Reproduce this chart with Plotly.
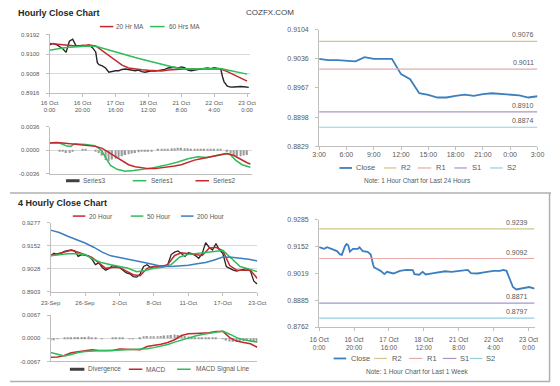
import plotly.graph_objects as go

FONT = "Liberation Sans, Arial, sans-serif"
TXT = "#595959"
AXC = "#bfbfbf"
GRID = "#d9d9d9"
RED = "#c3282d"
GREEN = "#2ebd59"
BLUE = "#3b7fc0"
BLACK = "#262626"
BARC = "#9a9a9a"
R2C, R1C, S1C, S2C = "#cfc68a", "#e8aaa9", "#a795c9", "#92cfe0"

# ---------------- Hourly close chart (panel 1) ----------------
h_labels = ["16 Oct<br>0:00", "16 Oct<br>20:00", "17 Oct<br>16:00", "18 Oct<br>12:00",
            "21 Oct<br>8:00", "22 Oct<br>4:00", "23 Oct<br>0:00"]
h_ticks = [0, 20, 40, 60, 80, 100, 120]
price_h = [0, 2, 4, 6, 8, 10, 12, 14, 16, 18, 20, 22, 24, 26, 28, 29,
           30, 32, 34, 36, 38, 40, 42, 44, 46, 48, 50, 52, 54, 56, 58, 60, 62, 64, 66, 68,
           70, 72, 74, 76, 78, 80, 82, 84, 86, 88, 90, 92, 94, 96, 98, 100, 102, 104, 105,
           106, 108, 110, 112, 114, 116, 118, 120, 121]
price_v = [0.9143, 0.9150, 0.9145, 0.9135, 0.9125, 0.9108, 0.9160, 0.9170, 0.9140, 0.9138,
           0.9140, 0.9138, 0.9142, 0.9130, 0.9110, 0.9060,
           0.9050, 0.9045, 0.9035, 0.9015, 0.9020, 0.9022, 0.9022, 0.9028, 0.9030, 0.9028,
           0.9026, 0.9022, 0.9025, 0.9018, 0.9015, 0.9020, 0.9022, 0.9020, 0.9022, 0.9025,
           0.9028, 0.9035, 0.9036, 0.9038, 0.9035, 0.9040, 0.9036, 0.9025, 0.9022, 0.9025,
           0.9030, 0.9032, 0.9033, 0.9035, 0.9032, 0.9036, 0.9034, 0.9030, 0.8995,
           0.8970, 0.8950, 0.8945, 0.8946, 0.8948, 0.8948, 0.8947, 0.8945, 0.8944]
ma_h = list(range(0, 121, 4))
ma20 = [0.9150, 0.9147, 0.9143, 0.9140, 0.9138, 0.9140, 0.9142, 0.9138, 0.9115, 0.9092,
        0.9068, 0.9048, 0.9035, 0.9030, 0.9027, 0.9024, 0.9022, 0.9021, 0.9025, 0.9028,
        0.9030, 0.9031, 0.9030, 0.9030, 0.9030, 0.9031, 0.9030, 0.9018, 0.9002, 0.8988, 0.8973]
ma60 = [0.9118, 0.9124, 0.9128, 0.9132, 0.9135, 0.9137, 0.9138, 0.9137, 0.9128, 0.9118,
        0.9108, 0.9100, 0.9092, 0.9084, 0.9076, 0.9068, 0.9060, 0.9052, 0.9044, 0.9037,
        0.9033, 0.9031, 0.9030, 0.9031, 0.9032, 0.9034, 0.9032, 0.9025, 0.9018, 0.9012, 0.9006]
p1_ticks = [0.8916, 0.9008, 0.9100, 0.9192]

# ---------------- Hourly MACD (panel 2) ----------------
s1_h = [0, 6, 10, 13, 15, 22, 27.5, 31.5, 34.5, 37, 41, 46, 51, 57, 62.5, 70, 78, 84, 90,
        95.5, 101.5, 107, 110, 113, 117, 122]
s1_v = [0.0011, 0.0011, 0.0007, 0.0006, 0.0010, 0.0009, 0.0007, 0.0000, -0.0013, -0.0023,
        -0.0029, -0.0032, -0.0031, -0.0029, -0.0027, -0.0023, -0.0018, -0.0013, -0.0010,
        -0.0011, -0.0008, -0.0005, -0.0007, -0.0015, -0.0022, -0.0026]
s2_h = list(range(0, 121, 4)) + [122]
s2_v = [0.0011, 0.0012, 0.0011, 0.0010, 0.0009, 0.0008, 0.0007, 0.0006, 0.0003, -0.0003,
        -0.0010, -0.0016, -0.0022, -0.0025, -0.0027, -0.0028, -0.0028, -0.0027, -0.0026,
        -0.0024, -0.0022, -0.0018, -0.0015, -0.0013, -0.0011, -0.0009, -0.0007, -0.0005,
        -0.0008, -0.0014, -0.0019, -0.0021]
s3_h = list(range(0, 121, 2))
s3_v = [0.0000, 0.0000, 0.0000, -0.0001, -0.0002, -0.0004, -0.0004, -0.0002, 0.0000, 0.0000,
        0.0001, 0.0001, 0.0000, 0.0000, -0.0001, -0.0004, -0.0008, -0.0015, -0.0016, -0.0014,
        -0.0013, -0.0011, -0.0009, -0.0007, -0.0006, -0.0005, -0.0004, -0.0003, -0.0002, -0.0002,
        -0.0001, -0.0001, 0.0000, 0.0001, 0.0001, 0.0002, 0.0002, 0.0003, 0.0003, 0.0004,
        0.0004, 0.0003, 0.0003, 0.0002, 0.0002, 0.0001, 0.0001, 0.0001, 0.0001, 0.0001,
        0.0001, 0.0001, 0.0001, 0.0000, -0.0002, -0.0005, -0.0008, -0.0009, -0.0009, -0.0008,
        -0.0007]
p2_ticks = [-0.0036, 0.0, 0.0036]

# ---------------- 24h close with pivots (panel 3) ----------------
d_labels = ["3:00", "6:00", "9:00", "12:00", "15:00", "18:00", "21:00", "0:00", "3:00"]
d_ticks = [0, 3, 6, 9, 12, 15, 18, 21, 24]
d_hours = list(range(25))
close24 = [0.9035, 0.9032, 0.9032, 0.9031, 0.9029, 0.9039, 0.9035, 0.9035, 0.9035, 0.8999,
           0.8987, 0.8954, 0.8950, 0.8944, 0.8944, 0.8948, 0.8951, 0.8948, 0.8952, 0.8954,
           0.8952, 0.8950, 0.8949, 0.8944, 0.8947]
lv_names = ["R2", "R1", "S1", "S2"]
lv24 = [0.9076, 0.9011, 0.8910, 0.8874]
p3_labels = ["0.8829", "0.8898", "0.8967", "0.9036", "0.9104"]

# ---------------- 4 hourly close chart (panel 4) ----------------
w_labels = ["23-Sep", "26-Sep", "2-Oct", "8-Oct", "11-Oct", "17-Oct", "23-Oct"]
w_ticks = [0, 1, 2, 3, 4, 5, 6]
price4 = [0.9098, 0.9112, 0.9105, 0.9110, 0.9122, 0.9128, 0.9130, 0.9125, 0.9095, 0.9105,
          0.9100, 0.9098, 0.9080, 0.9050, 0.9060, 0.9035, 0.9020, 0.9030, 0.9045, 0.9040,
          0.9035, 0.9020, 0.9005, 0.9000, 0.8985, 0.8982, 0.9000, 0.9040, 0.9050, 0.9035,
          0.9040, 0.9035, 0.9045, 0.9040, 0.9050, 0.9105, 0.9118, 0.9125, 0.9110, 0.9095,
          0.9115, 0.9110, 0.9100, 0.9085, 0.9110, 0.9170, 0.9145, 0.9130, 0.9165, 0.9130,
          0.9110, 0.9040, 0.9030, 0.9020, 0.9015, 0.9022, 0.9025, 0.9028, 0.9015, 0.8960,
          0.8945]
ma4_20 = [0.9100, 0.9108, 0.9118, 0.9128, 0.9118, 0.9105, 0.9090, 0.9060, 0.9030, 0.9035,
          0.9035, 0.9015, 0.8995, 0.8990, 0.9030, 0.9040, 0.9040, 0.9050, 0.9100, 0.9115,
          0.9110, 0.9105, 0.9100, 0.9140, 0.9145, 0.9125, 0.9045, 0.9020, 0.9022, 0.9020,
          0.8975]
ma4_50 = [0.9098, 0.9106, 0.9110, 0.9110, 0.9105, 0.9078, 0.9060, 0.9050, 0.9040, 0.9030,
          0.9012, 0.9018, 0.9030, 0.9036, 0.9050, 0.9092, 0.9106, 0.9110, 0.9114, 0.9122,
          0.9128, 0.9082, 0.9040, 0.9027, 0.9012]
ma4_200 = [0.9238, 0.9225, 0.9205, 0.9188, 0.9168, 0.9145, 0.9118, 0.9098, 0.9090, 0.9080,
           0.9070, 0.9060, 0.9050, 0.9040, 0.9040, 0.9043, 0.9047, 0.9055, 0.9062, 0.9075,
           0.9092, 0.9090, 0.9086, 0.9080, 0.9070]
p4_labels = ["0.8903", "0.9028", "0.9152", "0.9277"]

# ---------------- 4 hourly MACD (panel 5) ----------------
macd4 = [-0.0055, -0.0054, -0.0050, -0.0042, -0.0039, -0.0036, -0.0033, -0.0035, -0.0036,
         -0.0035, -0.0031, -0.0032, -0.0034, -0.0033, -0.0024, -0.0021, -0.0017, -0.0012,
         -0.0004, 0.0008, 0.0013, 0.0014, 0.0014, 0.0016, 0.0020, 0.0020, 0.0002, -0.0008,
         -0.0012, -0.0016, -0.0026]
signal4 = [-0.0041, -0.0047, -0.0051, -0.0047, -0.0041, -0.0038, -0.0036, -0.0036, -0.0036,
           -0.0035, -0.0034, -0.0033, -0.0033, -0.0033, -0.0030, -0.0027, -0.0023, -0.0018,
           -0.0011, -0.0005, 0.0002, 0.0007, 0.0011, 0.0014, 0.0018, 0.0021, 0.0012, 0.0002,
           -0.0004, -0.0008, -0.0011]
diverg4 = [-0.0006, -0.0005, -0.0002, 0.0000, 0.0001, 0.0002, 0.0003, 0.0004, 0.0004, 0.0004,
           0.0004, 0.0005, 0.0003, 0.0001, 0.0000, -0.0001, 0.0000, 0.0000, 0.0001, 0.0002,
           0.0002, 0.0001, 0.0000, -0.0001, -0.0001, 0.0000, 0.0003, 0.0006, 0.0007, 0.0006,
           0.0006, 0.0006, 0.0007, 0.0008, 0.0009, 0.0010, 0.0011, 0.0010, 0.0009, 0.0007,
           0.0005, 0.0004, 0.0003, 0.0002, 0.0002, 0.0002, 0.0002, 0.0001, 0.0001, 0.0000,
           -0.0002, -0.0006, -0.0009, -0.0010, -0.0010, -0.0009, -0.0008, -0.0008, -0.0009,
           -0.0010, -0.0012]
p5_ticks = [-0.0067, 0.0, 0.0067]

# ---------------- 1 week close with pivots (panel 6) ----------------
wk_h = [0, 2.8, 4.6, 7.4, 10.2, 12, 13, 14.8, 15.7, 16.7, 17.6, 19.4, 22.2, 23.1, 25, 27.8,
        29.6, 30.9, 31.5, 33.3, 35.2, 37.4, 38.9, 42.6, 46.3, 50, 53.7, 54.6, 57.4, 59.3,
        61.1, 64.8, 68.5, 72.2, 75.9, 79.6, 85.2, 87, 90.7, 94.4, 100, 103.7, 105.6, 107.4,
        109.3, 111.1, 113, 116.7, 120.4, 123.5]
wk_v = [0.9148, 0.9140, 0.9148, 0.9140, 0.9129, 0.9112, 0.9110, 0.9153, 0.9164, 0.9158,
        0.9126, 0.9140, 0.9140, 0.9148, 0.9129, 0.9125, 0.9112, 0.9064, 0.9048, 0.9040,
        0.9031, 0.9015, 0.9026, 0.9018, 0.9031, 0.9036, 0.9035, 0.9015, 0.9012, 0.9026,
        0.9013, 0.9018, 0.9023, 0.9029, 0.9026, 0.9031, 0.9036, 0.9020, 0.9018, 0.9023,
        0.9031, 0.9031, 0.9036, 0.9031, 0.8991, 0.8951, 0.8939, 0.8944, 0.8951, 0.8943]
lvwk = [0.9239, 0.9092, 0.8871, 0.8797]
p6_labels = ["0.8762", "0.8885", "0.9019", "0.9152", "0.9285"]

W, H = 560, 386
def px(x):
    return x / W
def py(y):
    return 1 - y / H

fig = go.Figure()

def line(x, y, color, xa, ya, width=1.5):
    fig.add_trace(go.Scatter(x=x, y=y, mode="lines", line=dict(color=color, width=width),
                             xaxis=xa, yaxis=ya, showlegend=False, hoverinfo="skip"))

# panel 1
line(price_h, price_v, BLACK, "x", "y", 1.4)
line(ma_h, ma20, RED, "x", "y")
line(ma_h, ma60, GREEN, "x", "y")
# panel 2
fig.add_trace(go.Bar(x=s3_h, y=s3_v, width=0.9, marker=dict(color=BARC, line=dict(width=0)),
                     xaxis="x2", yaxis="y2", showlegend=False, hoverinfo="skip"))
line(s1_h, s1_v, GREEN, "x2", "y2")
line(s2_h, s2_v, RED, "x2", "y2")
# panel 3
line(d_hours, close24, BLUE, "x3", "y3", 1.8)
for v, c in zip(lv24, [R2C, R1C, S1C, S2C]):
    line([d_hours[0], d_hours[-1]], [v, v], c, "x3", "y3", 1.2)
# panel 4
u10 = [i / 10 for i in range(61)]
u5 = [i / 5 for i in range(31)]
u4 = [i / 4 for i in range(25)]
line(u10, price4, BLACK, "x4", "y4", 1.3)
line(u5, ma4_20, RED, "x4", "y4")
line(u4, ma4_50, GREEN, "x4", "y4")
line(u4, ma4_200, BLUE, "x4", "y4")
# panel 5
fig.add_trace(go.Bar(x=u10, y=diverg4, width=0.045, marker=dict(color=BARC, line=dict(width=0)),
                     xaxis="x5", yaxis="y5", showlegend=False, hoverinfo="skip"))
line(u5, macd4, RED, "x5", "y5")
line(u5, signal4, GREEN, "x5", "y5")
# panel 6
line(wk_h, wk_v, BLUE, "x6", "y6", 1.8)
for v, c in zip(lvwk, [R2C, R1C, S1C, S2C]):
    line([wk_h[0], wk_h[-1]], [v, v], c, "x6", "y6", 1.2)

def axis(dom, rng, anchor, size=6, **kw):
    d = dict(domain=dom, range=rng, anchor=anchor, showline=True, linecolor=AXC, linewidth=1,
             ticks="outside", ticklen=3, tickcolor=AXC, showgrid=False, zeroline=False,
             tickfont=dict(size=size, color=TXT, family=FONT), fixedrange=True)
    d.update(kw)
    return d

def even(lo, hi, n):
    return [lo + (hi - lo) * i / (n - 1) for i in range(n)]

p3_rng = [0.8829, 0.9104]
p6_rng = [0.8753, 0.9285]
p4_rng = [0.8903, 0.9277]

fig.update_layout(
    width=W, height=H, margin=dict(l=0, r=0, t=0, b=0),
    paper_bgcolor="white", plot_bgcolor="white", barmode="overlay",
    font=dict(family=FONT, color=TXT),
    xaxis=axis([px(41), px(248)], [0, 121.5], "y", tickvals=h_ticks, ticktext=h_labels),
    yaxis=axis([py(91), py(31)], [0.8916, 0.9192], "x", tickvals=p1_ticks,
               ticktext=["%.4f" % v for v in p1_ticks], showgrid=True, gridcolor=GRID,
               ticklabelstandoff=5),
    xaxis2=axis([px(41), px(250)], [0, 122.7], "y2", showticklabels=False, ticks=""),
    yaxis2=axis([py(173), py(125)], [-0.0036, 0.0036], "x2", tickvals=p2_ticks,
                ticktext=["%.4f" % v for v in p2_ticks], showgrid=True, gridcolor=GRID,
                ticklabelstandoff=5),
    xaxis3=axis([px(320), px(546)], [0, 24], "y3", size=7, tickvals=d_ticks, ticktext=d_labels,
                ticklabelstandoff=-2),
    yaxis3=axis([py(145), py(26)], p3_rng, "x3", size=7, tickvals=even(p3_rng[0], p3_rng[1], 5),
                ticktext=p3_labels, ticklabelstandoff=5),
    xaxis4=axis([px(42), px(256)], [0, 6], "y4", tickvals=w_ticks, ticktext=w_labels,
                ticklabelstandoff=2),
    yaxis4=axis([py(293), py(223)], p4_rng, "x4", tickvals=even(p4_rng[0], p4_rng[1], 4),
                ticktext=p4_labels, showgrid=True, gridcolor=GRID, ticklabelstandoff=5),
    xaxis5=axis([px(42), px(256)], [0, 6], "y5", showticklabels=False, ticks=""),
    yaxis5=axis([py(364), py(317)], [-0.0067, 0.0067], "x5", tickvals=p5_ticks,
                ticktext=["%.4f" % v for v in p5_ticks], showgrid=True, gridcolor=GRID,
                ticklabelstandoff=5),
    xaxis6=axis([px(320), px(543)], [0, 123.5], "y6", size=6.5, tickvals=h_ticks, ticktext=h_labels,
                ticklabelstandoff=3),
    yaxis6=axis([py(329), py(219.5)], p6_rng, "x6", size=7, tickvals=even(p6_rng[0], p6_rng[1], 5),
                ticktext=p6_labels, ticklabelstandoff=5),
)

ann = []
shapes = []

def text(x, y, s, size=6.5, color=TXT, anchor="left", bold=False):
    ann.append(dict(x=px(x), y=py(y), xref="paper", yref="paper", text=("<b>%s</b>" % s) if bold else s,
                    showarrow=False, xanchor=anchor, yanchor="middle",
                    font=dict(size=size, color=color, family=FONT)))

def swatch(x0, x1, y, color, width=1.5):
    shapes.append(dict(type="line", xref="paper", yref="paper", x0=px(x0), x1=px(x1),
                       y0=py(y), y1=py(y), line=dict(color=color, width=width)))

# titles
text(6, 9, "Hourly Close Chart", 9, "#262626", bold=True)
text(242, 9, "COZFX.COM", 8, "#404040")
text(6, 203, "4 Hourly Close Chart", 9, "#262626", bold=True)

# legends
swatch(93, 107, 23, RED); text(108, 23, "20 Hr MA")
swatch(145, 160, 23, GREEN); text(162, 23, "60 Hrs MA")
swatch(58, 72, 180, "#404040", 3); text(74, 180, "Series3")
swatch(127, 141, 180, GREEN); text(144, 180, "Series1")
swatch(192, 206, 180, RED); text(208, 180, "Series2")

swatch(65, 78, 216, RED); text(80, 216, "20 Hour")
swatch(125, 138, 216, GREEN); text(140, 216, "50 Hour")
swatch(177, 190, 216, BLUE); text(192, 216, "200 Hour")
swatch(62, 77, 372, "#404040", 3); text(79, 372, "Divergence")
swatch(123, 137, 372, RED); text(139, 372, "MACD")
swatch(173, 187, 372, GREEN); text(190, 372, "MACD Signal Line")

def right_legend(y, xs):
    cols = [BLUE, R2C, R1C, S1C, S2C]
    names = ["Close"] + lv_names
    for (x0, x1, tx), c, n in zip(xs, cols, names):
        swatch(x0, x1, y, c, 1.8 if n == "Close" else 1.2)
        text(tx, y, n, 7.5)

right_legend(167, [(341, 354, 356), (387, 400, 403), (422, 436, 439), (460, 473, 476), (497, 510, 512)])
right_legend(361, [(335, 348, 351), (377, 390, 393), (413, 427, 430), (448, 462, 464), (476, 489, 491)])
text(422, 180, "Note: 1 Hour Chart for Last 24 Hours", 6.5, anchor="center")
text(422, 374, "Note: 1 Hour Chart for Last 1 Week", 6.5, anchor="center")

# pivot labels
for v in lv24:
    ann.append(dict(x=0.935, y=v, xref="x3 domain", yref="y3", text="%.4f" % v, showarrow=False,
                    xanchor="center", yanchor="bottom", yshift=1,
                    font=dict(size=7, color=TXT, family=FONT)))
for v in lvwk:
    ann.append(dict(x=0.92, y=v, xref="x6 domain", yref="y6", text="%.4f" % v, showarrow=False,
                    xanchor="center", yanchor="bottom", yshift=1,
                    font=dict(size=7, color=TXT, family=FONT)))

# frame lines
shapes.append(dict(type="line", xref="paper", yref="paper", x0=0, x1=1, y0=py(192.5), y1=py(192.5),
                   line=dict(color="#b0b0b0", width=1.5)))
shapes.append(dict(type="line", xref="paper", yref="paper", x0=0, x1=px(559), y0=py(384.5), y1=py(384.5),
                   line=dict(color="#b0b0b0", width=1.5)))
shapes.append(dict(type="line", xref="paper", yref="paper", x0=px(558.5), x1=px(558.5), y0=py(192.5),
                   y1=py(384.5), line=dict(color="#b0b0b0", width=1.5)))

fig.update_layout(annotations=ann, shapes=shapes)
fig.write_html("out.html", config={"displayModeBar": False},
               post_script="document.body.style.margin='0px';document.body.style.overflow='hidden';")
